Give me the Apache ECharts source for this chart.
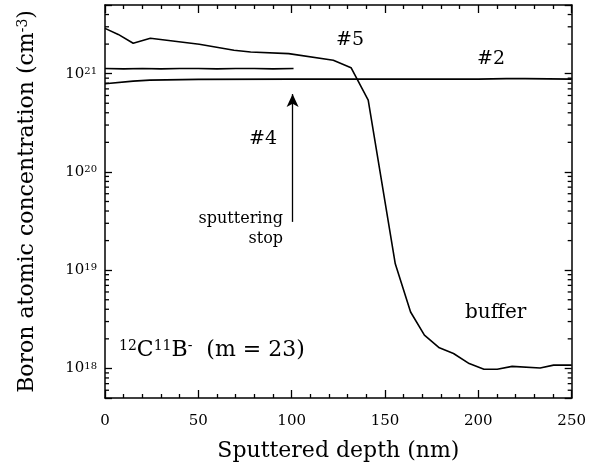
<!DOCTYPE html>
<html>
<head>
<meta charset="utf-8">
<script src="https://cdn.jsdelivr.net/npm/echarts@6/dist/echarts.min.js"></script>
<style>
html,body{margin:0;padding:0;background:#fff;}
#chart{width:589px;height:469px;}
</style>
</head>
<body>
<div id="chart"></div>
<script>
// ---- data ----
var depth5 = [0, 7.1, 15.1, 24.3, 50.5, 69.1, 78.0, 98.4, 122.3, 131.8, 141.0, 155.5, 163.7, 171.1, 179.1, 186.7, 195.1, 203.0, 210.1, 218.1, 233.1, 240.3, 250];
var conc5  = [2.89e21, 2.51e21, 2.04e21, 2.29e21, 1.99e21, 1.73e21, 1.66e21, 1.60e21, 1.37e21, 1.15e21, 5.37e20, 1.16e19, 3.75e18, 2.18e18, 1.62e18, 1.42e18, 1.12e18, 9.8e17, 9.8e17, 1.05e18, 1.01e18, 1.08e18, 1.08e18];

var depth2 = [0, 15.1, 24.0, 50, 100, 150, 200, 215, 225, 250];
var conc2  = [7.9e20, 8.4e20, 8.6e20, 8.75e20, 8.8e20, 8.8e20, 8.8e20, 8.9e20, 8.9e20, 8.8e20];

var depth4 = [0, 10, 20, 30, 40, 50, 60, 70, 80, 90, 101];
var conc4  = [1.13e21, 1.12e21, 1.13e21, 1.12e21, 1.13e21, 1.13e21, 1.12e21, 1.13e21, 1.13e21, 1.12e21, 1.13e21];

// sputtering-stop arrow (depth, from, to)
var arrowDepth = 100.5;
var arrowFrom = 3.1e19;
var arrowTo = 6.2e20;

// axis ranges & ticks
var xMin = 0, xMax = 250, xStep = 50;
var yMin = 5e17, yMax = 5e21;
var yMinorTicks = [6e17,7e17,8e17,9e17,
  2e18,3e18,4e18,5e18,6e18,7e18,8e18,9e18,
  2e19,3e19,4e19,5e19,6e19,7e19,8e19,9e19,
  2e20,3e20,4e20,5e20,6e20,7e20,8e20,9e20,
  2e21,3e21,4e21];

function zip(a, b){ return a.map(function(v,i){ return [v, b[i]]; }); }

var FONT = 'DejaVu Serif';
var chart = echarts.init(document.getElementById('chart'), null, {renderer:'canvas'});

var axisLineStyle = {color:'#000', width:1.5};
var tickStyle = {color:'#000', width:1.3};

var option = {
  animation: false,
  backgroundColor: '#fff',
  grid: {left:105, right:14, top:5, bottom:71, containLabel:false},
  xAxis: [{
    type:'value', min:xMin, max:xMax, interval:xStep, position:'bottom',
    axisLine:{show:true, onZero:false, lineStyle:axisLineStyle},
    axisTick:{show:true, inside:true, length:8, lineStyle:tickStyle},
    minorTick:{show:true, splitNumber:5, length:4, lineStyle:tickStyle},
    splitLine:{show:false},
    axisLabel:{color:'#000', fontFamily:FONT, fontSize:15, margin:16},
    name:'Sputtered depth (nm)', nameLocation:'middle', nameGap:42,
    nameTextStyle:{color:'#000', fontFamily:FONT, fontSize:22}
  },{
    type:'value', min:xMin, max:xMax, interval:xStep, position:'top',
    axisLine:{show:true, onZero:false, lineStyle:axisLineStyle},
    axisTick:{show:true, inside:true, length:8, lineStyle:tickStyle},
    minorTick:{show:true, splitNumber:5, length:4, lineStyle:tickStyle},
    splitLine:{show:false},
    axisLabel:{show:false}
  }],
  yAxis: [{
    type:'log', min:yMin, max:yMax, logBase:10, position:'left',
    axisLine:{show:true, onZero:false, lineStyle:axisLineStyle},
    axisTick:{show:true, inside:true, length:7, lineStyle:tickStyle},
    splitLine:{show:false},
    axisLabel:{
      color:'#000', margin:8,
      formatter:function(v){
        var e = Math.log10(v), r = Math.round(e);
        if (Math.abs(e - r) > 1e-6) return '';
        return '{b|10}{s|' + r + '}';
      },
      rich:{
        b:{fontFamily:FONT, fontSize:15, color:'#000'},
        s:{fontFamily:FONT, fontSize:10, color:'#000', verticalAlign:'top'}
      }
    },
    name:'{a|Boron atomic concentration (cm}{s|-3}{a|)}', nameLocation:'middle', nameGap:67, nameRotate:90,
    nameTextStyle:{
      color:'#000',
      rich:{
        a:{fontFamily:FONT, fontSize:22, color:'#000'},
        s:{fontFamily:FONT, fontSize:14, color:'#000', verticalAlign:'top'}
      }
    }
  },{
    type:'log', min:yMin, max:yMax, logBase:10, position:'right',
    axisLine:{show:true, onZero:false, lineStyle:axisLineStyle},
    axisTick:{show:true, inside:true, length:7, lineStyle:tickStyle},
    splitLine:{show:false},
    axisLabel:{show:false}
  }],
  series: [{
    name:'#5', type:'line', data:zip(depth5, conc5), showSymbol:false, symbol:'none',
    lineStyle:{color:'#000', width:1.6}, silent:true
  },{
    name:'#2', type:'line', data:zip(depth2, conc2), showSymbol:false, symbol:'none',
    lineStyle:{color:'#000', width:1.6}, silent:true
  },{
    name:'#4', type:'line', data:zip(depth4, conc4), showSymbol:false, symbol:'none',
    lineStyle:{color:'#000', width:1.6}, silent:true,
    markLine:{
      silent:true, symbol:['none','arrow'], symbolSize:[9,13],
      label:{show:false},
      lineStyle:{color:'#000', width:1.3, type:'solid'},
      data:[[{coord:[arrowDepth, arrowFrom]},{coord:[arrowDepth, arrowTo]}]]
    }
  },{
    name:'minor', type:'custom', silent:true, clip:false, z:5,
    data: yMinorTicks.map(function(v){ return [xMin, v]; }),
    renderItem:function(params, api){
      var v = api.value(1);
      var l = api.coord([xMin, v]);
      var r = api.coord([xMax, v]);
      var st = {stroke:'#000', lineWidth:1.3};
      return {type:'group', children:[
        {type:'line', shape:{x1:l[0], y1:l[1], x2:l[0]+4, y2:l[1]}, style:st},
        {type:'line', shape:{x1:r[0]-4, y1:r[1], x2:r[0], y2:r[1]}, style:st}
      ]};
    }
  }],
  graphic: [
    {type:'text', left:336, top:31, style:{text:'#5', fontFamily:FONT, fontSize:19, fill:'#000'}},
    {type:'text', left:477, top:50, style:{text:'#2', fontFamily:FONT, fontSize:19, fill:'#000'}},
    {type:'text', left:249, top:130, style:{text:'#4', fontFamily:FONT, fontSize:19, fill:'#000'}},
    {type:'text', left:465, top:303, style:{text:'buffer', fontFamily:FONT, fontSize:20, fill:'#000'}},
    {type:'text', right:306, top:211, style:{text:'sputtering', fontFamily:FONT, fontSize:16, fill:'#000', align:'right'}},
    {type:'text', right:306, top:231, style:{text:'stop', fontFamily:FONT, fontSize:16, fill:'#000', align:'right'}},
    {type:'text', left:119, top:339, style:{
      text:'{s|12}{b|C}{s|11}{b|B}{s|-}{b|  (m = 23)}',
      rich:{
        b:{fontFamily:FONT, fontSize:22, fill:'#000', color:'#000'},
        s:{fontFamily:FONT, fontSize:14, fill:'#000', color:'#000', verticalAlign:'top'}
      }
    }}
  ]
};
chart.setOption(option);
</script>
</body>
</html>
